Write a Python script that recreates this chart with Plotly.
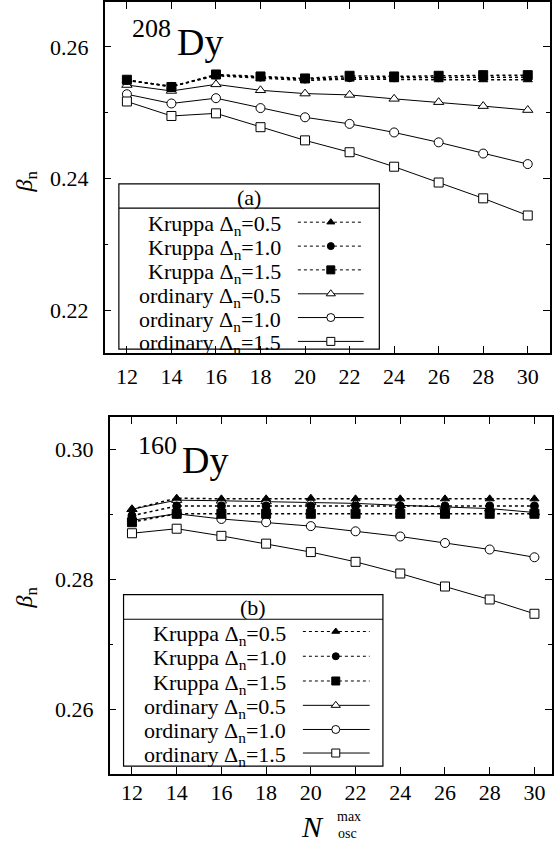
import plotly.graph_objects as go

W, H = 554, 848
FONT = "Liberation Serif, Times New Roman, Times, serif"

# ---------------- data ----------------
n_osc = [12, 14, 16, 18, 20, 22, 24, 26, 28, 30]

# 208Dy (panel a)
kruppa_05_208 = [0.2549, 0.2540, 0.2556, 0.2552, 0.2549, 0.2551, 0.2550, 0.2550, 0.2550, 0.2550]
kruppa_10_208 = [0.2549, 0.2540, 0.2557, 0.2554, 0.2551, 0.2553, 0.2553, 0.2553, 0.2554, 0.2554]
kruppa_15_208 = [0.2550, 0.2539, 0.2558, 0.2555, 0.2552, 0.2556, 0.2555, 0.2556, 0.2557, 0.2557]
ordinary_05_208 = [0.2542, 0.2533, 0.2543, 0.2534, 0.2529, 0.2527, 0.2521, 0.2516, 0.2510, 0.2504]
ordinary_10_208 = [0.2528, 0.2514, 0.2522, 0.2507, 0.2493, 0.2483, 0.2470, 0.2455, 0.2438, 0.2422]
ordinary_15_208 = [0.2517, 0.2495, 0.2499, 0.2478, 0.2458, 0.2440, 0.2418, 0.2394, 0.2370, 0.2344]

# 160Dy (panel b)
kruppa_05_160 = [0.2908, 0.2925, 0.2924, 0.2924, 0.2925, 0.2924, 0.2924, 0.2924, 0.2924, 0.2924]
kruppa_10_160 = [0.2898, 0.2913, 0.2913, 0.2913, 0.2913, 0.2913, 0.2913, 0.2913, 0.2913, 0.2913]
kruppa_15_160 = [0.2888, 0.2901, 0.2901, 0.2901, 0.2901, 0.2901, 0.2901, 0.2901, 0.2901, 0.2901]
ordinary_05_160 = [0.2908, 0.2922, 0.2921, 0.2920, 0.2919, 0.2917, 0.2914, 0.2912, 0.2909, 0.2903]
ordinary_10_160 = [0.2891, 0.2901, 0.2893, 0.2888, 0.2882, 0.2874, 0.2866, 0.2856, 0.2846, 0.2834]
ordinary_15_160 = [0.2871, 0.2878, 0.2867, 0.2855, 0.2842, 0.2827, 0.2809, 0.2789, 0.2769, 0.2747]

series_names = ["Kruppa Δ<sub>n</sub>=0.5", "Kruppa Δ<sub>n</sub>=1.0", "Kruppa Δ<sub>n</sub>=1.5",
                "ordinary Δ<sub>n</sub>=0.5", "ordinary Δ<sub>n</sub>=1.0", "ordinary Δ<sub>n</sub>=1.5"]
data_208 = [kruppa_05_208, kruppa_10_208, kruppa_15_208, ordinary_05_208, ordinary_10_208, ordinary_15_208]
data_160 = [kruppa_05_160, kruppa_10_160, kruppa_15_160, ordinary_05_160, ordinary_10_160, ordinary_15_160]

x_ticks = [12, 14, 16, 18, 20, 22, 24, 26, 28, 30]
y_ticks_208 = [0.22, 0.24, 0.26]
y_ticks_160 = [0.26, 0.28, 0.30]

# ---------------- styles ----------------
styles = [
    dict(symbol="triangle-up", fill="black", dash="dot", lw=1.5, size=8),
    dict(symbol="circle", fill="black", dash="dot", lw=1.5, size=8),
    dict(symbol="square", fill="black", dash="dot", lw=1.5, size=9),
    dict(symbol="triangle-up", fill="white", dash="solid", lw=1.0, size=9),
    dict(symbol="circle", fill="white", dash="solid", lw=1.0, size=9),
    dict(symbol="square", fill="white", dash="solid", lw=1.0, size=9),
]
draw_order = [3, 4, 5, 0, 1, 2]


def px(x):
    return x / W


def py(y):
    return 1 - y / H


fig = go.Figure()

for (xa, ya, data) in [("x", "y", data_208), ("x2", "y2", data_160)]:
    for i in draw_order:
        s = styles[i]
        fig.add_trace(go.Scatter(
            x=n_osc, y=data[i], xaxis=xa, yaxis=ya, mode="lines+markers",
            line=dict(color="black", width=s["lw"], dash=s["dash"]),
            marker=dict(symbol=s["symbol"], size=s["size"], color=s["fill"],
                        line=dict(color="black", width=1)),
            showlegend=False, hoverinfo="skip"))

# ---------------- hand-drawn legends (pixel overlay axis x3/y3) ----------------
legends = [
    dict(box=(119.3, 182.3, 380.7, 348.0), sep=206.7, title="(a)", title_y=195.5,
         rows=[220.7, 244.7, 268.5, 292.5, 316.3, 340.2], text_r=284, lx0=299, lx1=365, mx=332),
    dict(box=(124.0, 594.0, 384.3, 766.0), sep=618.7, title="(b)", title_y=607.0,
         rows=[631.0, 655.8, 680.6, 705.0, 729.2, 752.8], text_r=289.5, lx0=304, lx1=371, mx=337),
]

shapes = []
annotations = []
for lg in legends:
    x0, y0, x1, y1 = lg["box"]
    shapes.append(dict(type="rect", xref="paper", yref="paper", x0=px(x0), x1=px(x1), y0=py(y1), y1=py(y0),
                       line=dict(color="black", width=1.2), fillcolor="white", layer="below"))
    shapes.append(dict(type="line", xref="paper", yref="paper", x0=px(x0), x1=px(x1), y0=py(lg["sep"]), y1=py(lg["sep"]),
                       line=dict(color="black", width=1.2), layer="below"))
    annotations.append(dict(text=lg["title"], xref="paper", yref="paper", x=px((x0 + x1) / 2), y=py(lg["title_y"]),
                            xanchor="center", yanchor="middle", showarrow=False,
                            font=dict(family=FONT, size=22, color="black")))
    for i, ry in enumerate(lg["rows"]):
        s = styles[i]
        annotations.append(dict(text=series_names[i], xref="paper", yref="paper", x=px(lg["text_r"]), y=py(ry),
                                xanchor="right", yanchor="middle", yshift=-3, showarrow=False,
                                font=dict(family=FONT, size=22, color="black")))
        fig.add_trace(go.Scatter(x=[lg["lx0"], lg["lx1"]], y=[ry, ry], xaxis="x3", yaxis="y3", mode="lines",
                                 line=dict(color="black", width=1.0, dash=s["dash"]),
                                 showlegend=False, hoverinfo="skip"))
        fig.add_trace(go.Scatter(x=[lg["mx"]], y=[ry], xaxis="x3", yaxis="y3", mode="markers",
                                 marker=dict(symbol=s["symbol"], size=s["size"] - 1, color=s["fill"],
                                             line=dict(color="black", width=1)),
                                 showlegend=False, hoverinfo="skip"))

# nucleus labels
for (sup, sx, sy, dx, dy) in [("208", 130.0, 27.0, 176.0, 40.0), ("160", 136.0, 445.0, 181.0, 459.0)]:
    annotations.append(dict(text=sup, xref="paper", yref="paper", x=px(sx), y=py(sy), xanchor="left",
                            yanchor="middle", showarrow=False, font=dict(family=FONT, size=26, color="black")))
    annotations.append(dict(text="Dy", xref="paper", yref="paper", x=px(dx), y=py(dy), xanchor="left",
                            yanchor="middle", showarrow=False, font=dict(family=FONT, size=38, color="black")))

# y-axis titles
for yy in [180.0, 597.0]:
    annotations.append(dict(text="<i>β</i><sub>n</sub>", xref="paper", yref="paper", x=px(26), y=py(yy),
                            xanchor="center", yanchor="middle", textangle=-90, showarrow=False,
                            font=dict(family=FONT, size=24, color="black")))

# x-axis title N_osc^max
annotations.append(dict(text="<i>N</i>", xref="paper", yref="paper", x=px(314), y=py(826), xanchor="center",
                        yanchor="middle", showarrow=False, font=dict(family=FONT, size=30, color="black")))
annotations.append(dict(text="max", xref="paper", yref="paper", x=px(350), y=py(816.5), xanchor="center",
                        yanchor="middle", showarrow=False, font=dict(family=FONT, size=14, color="black")))
annotations.append(dict(text="osc", xref="paper", yref="paper", x=px(349), y=py(833.5), xanchor="center",
                        yanchor="middle", showarrow=False, font=dict(family=FONT, size=14, color="black")))

tickfont = dict(family=FONT, size=22, color="black")
common_x = dict(showgrid=False, zeroline=False, showline=True, linecolor="black", linewidth=1.5,
                mirror="ticks", ticks="inside", ticklen=7, tickwidth=1.2, tickcolor="black",
                tickvals=x_ticks, tickfont=tickfont, fixedrange=True)
common_y = dict(showgrid=False, zeroline=False, showline=True, linecolor="black", linewidth=1.5,
                mirror="ticks", ticks="inside", ticklen=7, tickwidth=1.2, tickcolor="black",
                tickfont=tickfont, tickformat=".2f", ticklabelstandoff=10, fixedrange=True,
                minor=dict(ticks="inside", ticklen=4, tickwidth=1.2, tickcolor="black", dtick=0.01, tick0=0.2,
                           showgrid=False))

fig.update_layout(
    width=W, height=H, margin=dict(l=0, r=0, t=0, b=0),
    paper_bgcolor="white", plot_bgcolor="rgba(0,0,0,0)", showlegend=False,
    font=dict(family=FONT, color="black"),
    xaxis=dict(domain=[px(105), px(552)], range=[11, 31], anchor="y", ticklabelstandoff=3, **common_x),
    yaxis=dict(domain=[py(352), 1.0], range=[0.2135, 0.2668], anchor="x", tickvals=y_ticks_208, **common_y),
    xaxis2=dict(domain=[px(110), 1.0], range=[11, 11 + 444 / 22.44], anchor="y2", ticklabelstandoff=-2, **common_x),
    yaxis2=dict(domain=[py(774), py(416)], range=[0.25, 0.305], anchor="x2", tickvals=y_ticks_160, **common_y),
    xaxis3=dict(domain=[0, 1], range=[0, W], anchor="y3", visible=False, fixedrange=True),
    yaxis3=dict(domain=[0, 1], range=[H, 0], anchor="x3", visible=False, fixedrange=True),
    shapes=shapes, annotations=annotations,
)

fig.write_html("out.html")
